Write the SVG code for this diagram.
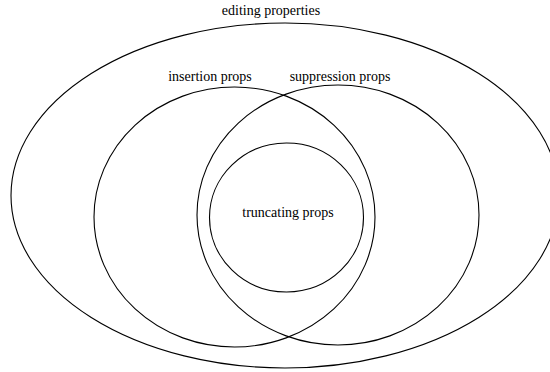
<svg xmlns="http://www.w3.org/2000/svg" width="550" height="372" viewBox="0 0 550 372">
<style>
.s{fill:none;stroke:#000;stroke-width:1.1}
text{font-family:"Liberation Serif","Times New Roman",serif;font-size:14px;fill:#000;text-anchor:middle}
</style>
<rect width="550" height="372" fill="#fff"/>
<g id="editing">
<ellipse class="s" cx="285" cy="195.5" rx="274" ry="172.5"/>
<text x="271" y="15">editing properties</text>
</g>
<g id="insertion">
<ellipse class="s" cx="234.5" cy="217" rx="140.5" ry="130"/>
<text x="210" y="81">insertion props</text>
</g>
<g id="suppression">
<ellipse class="s" cx="338" cy="215" rx="141" ry="130"/>
<text x="340" y="81">suppression props</text>
</g>
<g id="truncating">
<ellipse class="s" cx="286.5" cy="217.5" rx="77" ry="74.5"/>
<text x="288" y="217">truncating props</text>
</g>
<g id="connectors"></g>
</svg>
